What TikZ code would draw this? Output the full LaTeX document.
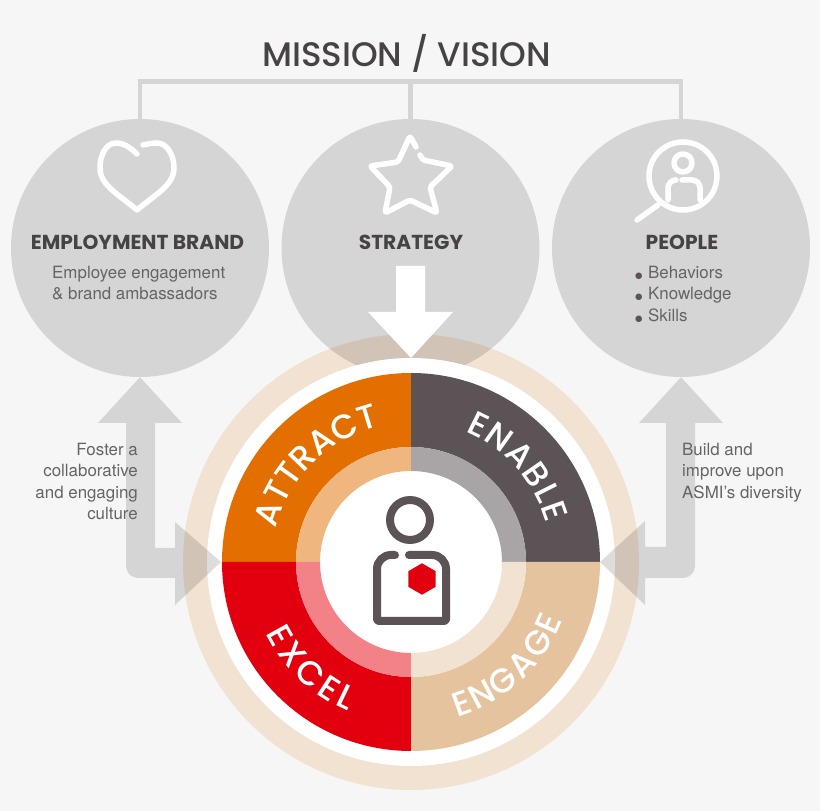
\documentclass[tikz,border=0pt]{standalone}
\usepackage{fontspec}
\usetikzlibrary{decorations.text,calc}
\setmainfont{TeX Gyre Heros}
\newfontfamily\popt{Poppins Medium}
\newfontfamily\popw{Poppins Medium}
\newfontfamily\poph{Poppins}
\definecolor{bgc}{HTML}{F6F6F6}
\definecolor{ringc}{HTML}{F2E2D2}
\definecolor{brace}{HTML}{D5D5D5}
\definecolor{dark}{HTML}{5C5356}
\definecolor{head}{HTML}{474345}
\definecolor{body}{HTML}{666465}
\definecolor{attr}{HTML}{E36F00}
\definecolor{attrl}{HTML}{F0B680}
\definecolor{enab}{HTML}{5C5356}
\definecolor{enabl}{HTML}{A9A5A6}
\definecolor{excl}{HTML}{E2000F}
\definecolor{excll}{HTML}{F28188}
\definecolor{enga}{HTML}{E5C39E}
\definecolor{engal}{HTML}{F2E2D2}
\tikzset{
  topic/.style={circle,minimum size=258pt,inner sep=0pt,fill=black,fill opacity=.135},
  bracketline/.style={draw=brace,line width=4.5pt},
  flow/.style={fill=black,fill opacity=.135},
  iconw/.style={draw=white,line width=5.5pt,line cap=round,line join=round},
  icond/.style={draw=dark,line width=8pt,line cap=round,line join=round},
  headt/.style={text=head,inner sep=0pt,font=\poph\bfseries\fontsize{20.2}{22}\selectfont},
  bodyt/.style={text=body,inner sep=0pt,font=\fontsize{16.9}{21.4}\selectfont},
}
\newcommand{\wedgeword}[5]{% start, end, radius, colour, word
  \path[decorate,decoration={text along path,text align=fit to path,
    text={|\popw\fontsize{34}{36}\selectfont\color{#4}|#5}}]
    (c) ++(#1:#3) arc[start angle=#1,end angle=#2,radius=#3];}
\newcommand{\sector}[5]{% start, end, outer radius, inner radius, colour
  \fill[#5] (c) ++(#1:#3) arc[start angle=#1,end angle=#2,radius=#3] -- ($(c)+(#2:#4)$) arc[start angle=#2,end angle=#1,radius=#4] -- cycle;}
\newcommand{\bul}{{\fontspec{DejaVu Sans}\fontsize{8.5}{21.4}\selectfont\color{dark}●}\hspace{5.5pt}}
\begin{document}
\begin{tikzpicture}[x=1pt,y=1pt]
\useasboundingbox (0,0) rectangle (820,811);
\fill[bgc] (0,0) rectangle (820,811);
\coordinate (c) at (411,249);
\fill[ringc] (c) circle[radius=228];
% topic circles
\node[topic] (emp) at (140,563) {};
\node[topic] (str) at (410.5,563) {};
\node[topic] (peo) at (681,563) {};
% disc and sectors
\fill[white] (c) circle[radius=204];
\sector{90}{180}{189}{115}{attr}
\sector{0}{90}{189}{115}{enab}
\sector{180}{270}{189}{115}{excl}
\sector{270}{360}{189}{115}{enga}
\sector{90}{180}{115}{91}{attrl}
\sector{0}{90}{115}{91}{enabl}
\sector{180}{270}{115}{91}{excll}
\sector{270}{360}{115}{91}{engal}
% bracket
\node[text=head,inner sep=0pt,font=\popt\fontsize{34}{36}\selectfont] (title) at (406.5,758) {MISSION / VISION};
\coordinate (mid) at (410.5,729.5);
\draw[bracketline] (emp.north) |- (mid) -| (peo.north);
\draw[bracketline] (str.north) -- (mid);
% arrows
\coordinate (ltip) at (221,249);
\coordinate (rtip) at (600,249);
\coordinate (ctip) at (411,453);
\fill[flow] (emp.south) -- (182,388) -- (155,388) -- (155,263) -- (175,263) -- (175,289) -- (ltip) -- (175,206) -- (175,233) [rounded corners=12pt] -- (126,233) [sharp corners] -- (126,388) -- (98,388) -- cycle;
\fill[flow] (peo.south) -- (723,388) -- (695,388) [rounded corners=12pt] -- (695,233) [sharp corners] -- (645,233) -- (645,206) -- (rtip) -- (645,290) -- (645,264) -- (666,264) -- (666,388) -- (639,388) -- cycle;
\fill[white] (396,545) -- (425,545) -- (425,499) -- (453,499) -- (ctip) -- (368,499) -- (396,499) -- cycle;
% heart
\draw[iconw] (137,657) .. controls (131,663) and (124,668) .. (116,668) .. controls (106,668) and (100,656) .. (100,643) .. controls (100,626) and (118,617) .. (137,601) .. controls (156,617) and (174,626) .. (174,643) .. controls (174,656) and (167,668) .. (157,668) .. controls (152,668) and (147,667) .. (143,666);
% star
\draw[iconw,rounded corners=2.5pt] (416,664) -- (410,675) -- (398,649) -- (370,645) -- (390,624) -- (385,598) -- (410,611) -- (437,598) -- (430,624) -- (452,645) -- (423,651) -- (420,656);
% magnifier
\draw[iconw] (683,635) circle[radius=34];
\draw[iconw] (658,606) -- (637,591);
\draw[iconw] (683,648) circle[radius=9];
\draw[iconw,rounded corners=8pt] (675,631) -- (668,631) -- (668,611);
\draw[iconw,rounded corners=8pt] (682,631) -- (700,631) -- (700,611);
% heads
\node[headt] (empt) at (137.5,568.5) {EMPLOYMENT BRAND};
\node[headt] (strt) at (411,568.5) {STRATEGY};
\node[headt] (peot) at (682,568.5) {PEOPLE};
% body text
\node[bodyt,align=left,anchor=north west] (empb) at (52,545.5) {Employee engagement\\\& brand ambassadors};
\node[bodyt,align=left,anchor=north west] (peob) at (635,545) {\bul Behaviors\\\bul Knowledge\\\bul Skills};
\node[bodyt,align=right,anchor=north east] (lnote) at (138,368) {Foster a\\collaborative\\and engaging\\culture};
\node[bodyt,align=left,anchor=north west] (rnote) at (682,368) {Build and\\improve upon\\ASMI's diversity};
% sector words
\wedgeword{166}{106}{139}{white}{ATTRACT}
\wedgeword{67.4}{15.9}{141}{white}{ENABLE}
\wedgeword{206}{247}{162}{white}{EXCEL}
\wedgeword{286.5}{339}{162}{white}{ENGAGE}
% person
\draw[icond] (410,291) circle[radius=20];
\draw[icond] (395,256) [rounded corners=14pt] -- (377,256) [rounded corners=2pt] -- (377,190) -- (446,190) [rounded corners=14pt] -- (446,256) -- (409,256);
\coordinate (hex) at (422,232);
\fill[excl] (hex) ++(90:15.7) -- ($(hex)+(150:15.7)$) -- ($(hex)+(210:15.7)$) -- ($(hex)+(270:15.7)$) -- ($(hex)+(330:15.7)$) -- ($(hex)+(30:15.7)$) -- cycle;
\end{tikzpicture}
\end{document}
